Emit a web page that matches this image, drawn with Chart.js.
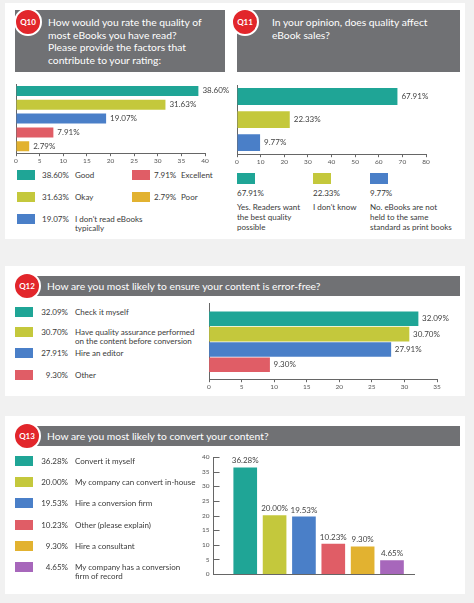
<!DOCTYPE html>
<html>
<head>
<meta charset="utf-8">
<script src="https://cdn.jsdelivr.net/npm/chart.js@4.4.1/dist/chart.umd.min.js"></script>
<style>
    body { margin: 0; width: 474px; height: 603px; background: #f1f1f1; font-family: Lato, sans-serif; position: relative; overflow: hidden; color: #3a3a3a; }
    .panel { position: absolute; background: #fff; }
    .head { position: absolute; background: #707174; }
    .head-text { position: absolute; color: #fff; font-size: 10.3px; line-height: 12.5px; white-space: pre-line; }
    .badge { position: absolute; width: 24px; height: 24px; border-radius: 50%; background: #e2262b; border: 2px solid #fff;
        color: #fff; font-size: 8px; font-weight: bold; text-align: center; line-height: 24px; }
    .box { position: absolute; }
    .sq { position: absolute; }
    .txt { position: absolute; font-size: 8px; line-height: 9px; white-space: pre-line; }
</style>
</head>
<body>
<div class="panel" style="left:5px;top:3px;width:460px;height:236px"></div>
<div class="panel" style="left:5px;top:266px;width:460px;height:130px"></div>
<div class="panel" style="left:5px;top:416px;width:460px;height:178px"></div>

<div class="head" style="left:15px;top:10px;width:210px;height:62px"></div>
<div class="head-text" style="left:48px;top:16px">How would you rate the quality of
most eBooks you have read?
Please provide the factors that
contribute to your rating:</div>
<div class="badge" style="left:14px;top:8px">Q10</div>

<div class="head" style="left:237px;top:10px;width:223px;height:62px"></div>
<div class="head-text" style="left:272px;top:16px">In your opinion, does quality affect
eBook sales?</div>
<div class="badge" style="left:231px;top:8px">Q11</div>

<div class="head" style="left:30px;top:276px;width:430px;height:20px"></div>
<div class="head-text" style="left:47px;top:279.5px">How are you most likely to ensure your content is error-free?</div>
<div class="badge" style="left:13px;top:272px">Q12</div>

<div class="head" style="left:30px;top:426px;width:430px;height:20px"></div>
<div class="head-text" style="left:47px;top:429.5px">How are you most likely to convert your content?</div>
<div class="badge" style="left:13px;top:422px">Q13</div>

<div class="box" style="left:6px;top:80px;width:230px;height:86px"><canvas id="q10"></canvas></div>
<div class="box" style="left:227px;top:81px;width:215px;height:86px"><canvas id="q11"></canvas></div>
<div class="box" style="left:200px;top:298px;width:255px;height:94px"><canvas id="q12"></canvas></div>
<div class="box" style="left:190px;top:448px;width:232px;height:134px"><canvas id="q13"></canvas></div>

<div id="legends"></div>

<script>
    const palette = ['#1fa596', '#c4c83c', '#4a7fc8', '#e05d66', '#e2b230', '#a767bb'];

    const q10Labels = ['Good', 'Okay', 'I don\'t read eBooks\ntypically', 'Excellent', 'Poor'];
    const q10Values = [38.60, 31.63, 19.07, 7.91, 2.79];

    const q11Labels = ['Yes. Readers want\nthe best quality\npossible', 'I don\'t know', 'No. eBooks are not\nheld to the same\nstandard as print books'];
    const q11Values = [67.91, 22.33, 9.77];

    const q12Labels = ['Check it myself', 'Have quality assurance performed\non the content before conversion', 'Hire an editor', 'Other'];
    const q12Values = [32.09, 30.70, 27.91, 9.30];

    const q13Labels = ['Convert it myself', 'My company can convert in-house', 'Hire a conversion firm', 'Other (please explain)', 'Hire a consultant', 'My company has a conversion\nfirm of record'];
    const q13Values = [36.28, 20.00, 19.53, 10.23, 9.30, 4.65];

    const pct = v => v.toFixed(2) + '%';
    const axisColor = '#666';
    const tickFont = {family: 'Lato', size: 6.5};

    // percentage text at the end of every bar
    const valueLabels = {
        id: 'valueLabels',
        afterDatasetsDraw(chart) {
            const ctx = chart.ctx;
            const horizontal = chart.options.indexAxis === 'y';
            const values = chart.data.datasets[0].values;
            ctx.save();
            ctx.font = '8px Lato';
            ctx.fillStyle = '#444';
            chart.getDatasetMeta(0).data.forEach(function (bar, i) {
                if (horizontal) {
                    ctx.textAlign = 'left';
                    ctx.textBaseline = 'middle';
                    ctx.fillText(pct(values[i]), bar.x + 4, bar.y);
                } else {
                    ctx.textAlign = 'center';
                    ctx.textBaseline = 'bottom';
                    ctx.fillText(pct(values[i]), bar.x, bar.y - 3);
                }
            });
            ctx.restore();
        }
    };

    // short tick marks pointing into the plot (Q13 y axis)
    const innerTicks = {
        id: 'innerTicks',
        afterDraw(chart) {
            const s = chart.scales.y;
            const ctx = chart.ctx;
            ctx.save();
            ctx.strokeStyle = axisColor;
            ctx.lineWidth = 1;
            ctx.beginPath();
            s.ticks.forEach(function (t) {
                const y = Math.round(s.getPixelForValue(t.value)) + 0.5;
                ctx.moveTo(s.right, y);
                ctx.lineTo(s.right + 6, y);
            });
            ctx.stroke();
            ctx.restore();
        }
    };

    function valueAxis(max, step) {
        return {
            min: 0, max: max,
            ticks: {stepSize: step, font: tickFont, color: '#555', padding: 1, maxRotation: 0},
            grid: {display: true, drawOnChartArea: false, drawTicks: true, tickLength: 3, color: axisColor},
            border: {color: axisColor}
        };
    }

    function hiddenAxis(extra) {
        return Object.assign({
            ticks: {display: false},
            grid: {display: false, drawTicks: false},
            border: {color: axisColor}
        }, extra || {});
    }

    const baseOptions = {
        responsive: true,
        maintainAspectRatio: false,
        animation: false,
        plugins: {legend: {display: false}, tooltip: {enabled: false}}
    };

    // Q10
    new Chart(document.getElementById('q10'), {
        type: 'bar',
        data: {
            labels: q10Labels,
            datasets: [{data: q10Values, values: q10Values, backgroundColor: palette.slice(0, 5),
                barPercentage: 0.72, categoryPercentage: 1}]
        },
        options: Object.assign({}, baseOptions, {
            indexAxis: 'y',
            layout: {padding: {left: 10, right: 31, top: 4, bottom: 0}},
            scales: {x: valueAxis(40, 5), y: hiddenAxis()}
        }),
        plugins: [valueLabels]
    });

    // Q11
    new Chart(document.getElementById('q11'), {
        type: 'bar',
        data: {
            labels: q11Labels,
            datasets: [{data: q11Values, values: q11Values, backgroundColor: palette.slice(0, 3),
                barPercentage: 0.73, categoryPercentage: 1}]
        },
        options: Object.assign({}, baseOptions, {
            indexAxis: 'y',
            layout: {padding: {left: 10, right: 16, top: 4, bottom: 0}},
            scales: {x: valueAxis(80, 10), y: hiddenAxis()}
        }),
        plugins: [valueLabels]
    });

    // Q12
    new Chart(document.getElementById('q12'), {
        type: 'bar',
        data: {
            datasets: [{data: q12Values.map((v, i) => ({x: v, y: i})), values: q12Values,
                backgroundColor: palette.slice(0, 4), barThickness: 14}]
        },
        options: Object.assign({}, baseOptions, {
            indexAxis: 'y',
            layout: {padding: {left: 9, right: 18, top: 5, bottom: 0}},
            scales: {
                x: valueAxis(35, 5),
                y: hiddenAxis({type: 'linear', min: -1.03, max: 3.94, reverse: true, offset: false, bounds: 'data'})
            }
        }),
        plugins: [valueLabels]
    });

    // Q13
    new Chart(document.getElementById('q13'), {
        type: 'bar',
        data: {
            datasets: [{data: q13Values.map((v, i) => ({x: i, y: v})), values: q13Values,
                backgroundColor: palette.slice(0, 6), barThickness: 23}]
        },
        options: Object.assign({}, baseOptions, {
            layout: {padding: {left: 8, right: 8, top: 9, bottom: 4}},
            scales: {
                x: hiddenAxis({type: 'linear', min: -1.08, max: 5.75, offset: false, bounds: 'data'}),
                y: {
                    min: 0, max: 40,
                    ticks: {stepSize: 5, font: tickFont, color: '#555', padding: 4},
                    grid: {display: false, drawTicks: false},
                    border: {color: axisColor}
                }
            }
        }),
        plugins: [valueLabels, innerTicks]
    });

    // legends
    const legendRoot = document.getElementById('legends');

    function el(cls, style, text) {
        const d = document.createElement('div');
        d.className = cls;
        d.setAttribute('style', style);
        if (text !== undefined) d.textContent = text;
        legendRoot.appendChild(d);
        return d;
    }

    // row-style item: square, percentage, label; first text line centred on the square
    function rowItem(x, cy, color, value, label, pctX, pctRight, labelX) {
        el('sq', `left:${x}px;top:${cy - 5}px;width:18px;height:10px;background:${color}`);
        if (pctRight) {
            el('txt', `left:${pctX - 40}px;top:${cy - 4.5}px;width:40px;text-align:right`, pct(value));
        } else {
            el('txt', `left:${pctX}px;top:${cy - 4.5}px`, pct(value));
        }
        el('txt', `left:${labelX}px;top:${cy - 4.5}px`, label);
    }

    q10Labels.forEach(function (label, i) {
        const col = i < 3 ? 0 : 1;
        const row = i < 3 ? i : i - 3;
        const cy = 175 + row * 22;
        if (col === 0) {
            rowItem(17, cy, palette[i], q10Values[i], label, 42, false, 75);
        } else {
            rowItem(132, cy, palette[i], q10Values[i], label, 154, false, 181);
        }
    });

    const q11X = [237, 313, 370];
    q11Labels.forEach(function (label, i) {
        const x = q11X[i];
        el('sq', `left:${x}px;top:173px;width:18px;height:11px;background:${palette[i]}`);
        el('txt', `left:${x}px;top:188.5px`, pct(q11Values[i]));
        el('txt', `left:${x}px;top:202px;line-height:10px`, label);
    });

    const q12Y = [312, 332, 353, 375];
    q12Labels.forEach(function (label, i) {
        rowItem(15, q12Y[i], palette[i], q12Values[i], label, 68, true, 75);
    });

    q13Labels.forEach(function (label, i) {
        rowItem(15, Math.round(461 + i * 21.2), palette[i], q13Values[i], label, 68, true, 75);
    });
</script>
</body>
</html>
